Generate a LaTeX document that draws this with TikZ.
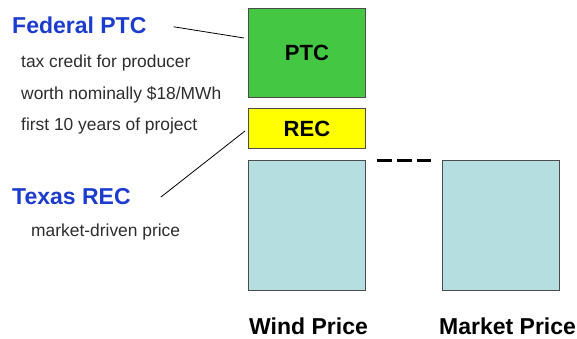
\documentclass[tikz,border=0pt]{standalone}
\usepackage{fontspec}
\setmainfont{Liberation Sans}
\usepackage{tikz}
\usetikzlibrary{positioning}
\definecolor{ptcgreen}{RGB}{68,200,68}
\definecolor{recyellow}{RGB}{255,255,0}
\definecolor{priceblue}{RGB}{181,222,225}
\definecolor{headblue}{RGB}{28,60,205}
\definecolor{notegray}{RGB}{45,45,45}

\tikzset{
  pricebox/.style={draw=black!70, line width=0.9pt, minimum width=117pt, inner sep=0pt},
  heading/.style={anchor=base west, font=\fontsize{23}{25}\selectfont\bfseries, text=headblue, inner sep=0pt},
  note/.style={anchor=base west, font=\fontsize{17.4}{19}\selectfont, text=notegray, inner sep=0pt},
  caption/.style={anchor=base west, font=\fontsize{23}{25}\selectfont\bfseries, inner sep=0pt},
  pointer/.style={draw=black, line width=0.8pt}
}

\begin{document}
\begin{tikzpicture}[x=1pt, y=-1pt]
        \useasboundingbox (0,0) rectangle (577,339);

        % --- Stacked wind price ---
        \node[pricebox, fill=ptcgreen, minimum height=89pt, anchor=north west] (ptc) at (248,8)
            {\fontsize{22}{24}\selectfont\bfseries PTC};
        \node[pricebox, fill=recyellow, minimum height=40pt, anchor=north west] (rec) at (248,108)
            {\fontsize{22}{24}\selectfont\bfseries REC};
        \node[pricebox, fill=priceblue, minimum height=130pt, anchor=north west] (wind) at (248,160) {};

        % --- Market price ---
        \node[pricebox, fill=priceblue, minimum height=130pt, anchor=north west] (market) at (442,160) {};

        % tops line up
        \draw[line width=3pt, dash pattern=on 15pt off 5pt]
            ([xshift=11pt]wind.north east) -- ([xshift=-11pt]market.north west);

        % --- Captions below ---
        \node[caption] (windcap) at (249,334) {Wind Price};
        \node[caption] (marketcap) at (439,334) {Market Price};

        % --- Federal PTC ---
        \node[heading] (fedptc) at (12,34) {Federal PTC};
        \node[note] (ptcnote1) at (21,68) {tax credit for producer};
        \node[note] (ptcnote2) at (21,100) {worth nominally \$18/MWh};
        \node[note] (ptcnote3) at (21,131) {first 10 years of project};

        % --- Texas REC ---
        \node[heading] (texrec) at (12,204) {Texas REC};
        \node[note] (recnote) at (31,236) {market-driven price};

        % pointers from headings to boxes
        \coordinate (ptctip) at ([xshift=-4pt]ptc.west |- 0,38);
        \coordinate (rectip) at ([xshift=-3pt]rec.west |- 0,131);
        \draw[pointer] ([xshift=27pt, yshift=-1pt]fedptc.east) -- (ptctip);
        \draw[pointer] ([xshift=30pt, yshift=-1pt]texrec.east) -- (rectip);
\end{tikzpicture}
\end{document}
